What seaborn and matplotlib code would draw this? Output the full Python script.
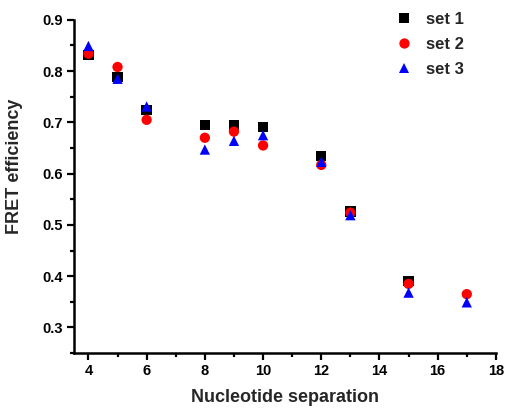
import numpy as np
import pandas as pd
import matplotlib
matplotlib.use("Agg")
import matplotlib.pyplot as plt
from matplotlib.ticker import MultipleLocator
import seaborn as sns

separation = [4, 5, 6, 8, 9, 10, 12, 13, 15, 17]
set1 = [0.831, 0.788, 0.724, 0.695, 0.695, 0.691, 0.635, 0.526, 0.391, np.nan]
set2 = [0.834, 0.808, 0.705, 0.670, 0.682, 0.655, 0.617, 0.524, 0.385, 0.365]
set3 = [0.849, 0.785, 0.731, 0.647, 0.664, 0.675, 0.623, 0.519, 0.368, 0.349]
series_names = ["set 1", "set 2", "set 3"]

df = pd.concat([
    pd.DataFrame({"sep": separation, "fret": vals, "set": name})
    for name, vals in zip(series_names, [set1, set2, set3])
], ignore_index=True).dropna()

sns.set_style("ticks")
plt.rcParams["font.family"] = ["Liberation Sans", "DejaVu Sans"]
plt.rcParams["font.weight"] = "bold"

fig = plt.figure(figsize=(5.06, 4.13), dpi=100)
ax = fig.add_axes([0.146, 0.145, 0.834, 0.807])

sns.scatterplot(
    data=df, x="sep", y="fret", hue="set", style="set",
    hue_order=series_names, style_order=series_names,
    palette=["#000000", "#ff0000", "#0000ff"],
    markers=["s", "o", "^"], s=55, linewidth=0, ax=ax, legend=True,
)

ax.set_xlim(3.5, 18)
ax.set_ylim(0.25, 0.9)
ax.xaxis.set_minor_locator(MultipleLocator(1))
ax.yaxis.set_minor_locator(MultipleLocator(0.05))
yt = np.arange(0.3, 0.91, 0.1)
ax.set_yticks(yt)
ax.set_yticklabels([f"{v:.1f}" for v in yt])
ax.set_xticks(np.arange(4, 19, 2))

sns.despine(ax=ax)
for side in ["left", "bottom"]:
    ax.spines[side].set_linewidth(1.8)
    ax.spines[side].set_color("black")
ax.tick_params(which="major", length=5, width=1.6, direction="out",
               labelsize=10.5, colors="black", pad=3)
ax.tick_params(which="minor", length=3, width=1.6, direction="out", colors="black")
for lbl in ax.get_xticklabels() + ax.get_yticklabels():
    lbl.set_fontweight("bold")

ax.set_xlabel("Nucleotide separation", fontsize=13, fontweight="bold", labelpad=8)
ax.set_ylabel("FRET efficiency", fontsize=13, fontweight="bold")
ax.yaxis.set_label_coords(-0.12, 0.56)

handles, labels = ax.get_legend_handles_labels()
ax.legend(handles, labels, loc="upper right", frameon=False,
          prop={"weight": "bold", "size": 12}, handletextpad=0.3,
          labelspacing=0.6, bbox_to_anchor=(0.96, 1.068))

fig.savefig("out.png", dpi=100)
